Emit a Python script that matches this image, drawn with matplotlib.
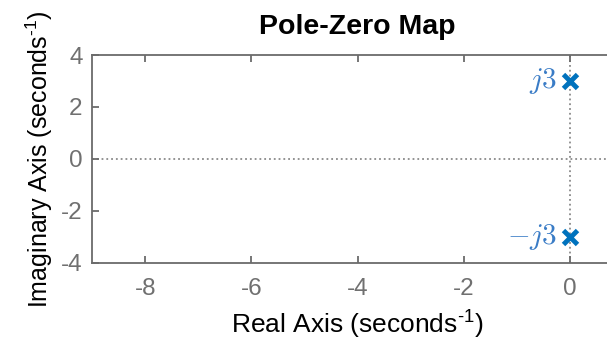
import numpy as np
import matplotlib
matplotlib.use('Agg')
import matplotlib.pyplot as plt

# datos del mapa de polos
pole_re = [0.0, 0.0]
pole_im = [3.0, -3.0]
pole_txt = ['$j3$', '$-j3$']
xticks = [-8, -6, -4, -2, 0]
yticks = [-4, -2, 0, 2, 4]

plt.rcParams['font.family'] = ['Liberation Sans', 'DejaVu Sans']
plt.rcParams['mathtext.fontset'] = 'custom'
plt.rcParams['mathtext.rm'] = 'Liberation Sans'
plt.rcParams['mathtext.sf'] = 'Liberation Sans'
plt.rcParams['axes.unicode_minus'] = False

fig = plt.figure(figsize=(6.07, 3.44), dpi=100)
ax = fig.add_axes([0.152, 0.2363, 0.874, 0.6038])

gris = '#6b6b6b'
azul = '#0072BD'

# lineas punteadas de los ejes
ax.axhline(0, color='#8a8a8a', ls=':', lw=1.3, zorder=1)
ax.axvline(0, color='#8a8a8a', ls=':', lw=1.3, zorder=1)

ax.plot(pole_re, pole_im, 'x', color=azul, ms=10.5, mew=3.5, zorder=3)
for xr, yi, t in zip(pole_re, pole_im, pole_txt):
    ax.annotate(t, (xr, yi), xytext=(-9, 0), textcoords='offset points',
                ha='right', va='center', color='#3a7cc6', fontsize=21,
                math_fontfamily='cm')

ax.set_xlim(-9, 1)
ax.set_ylim(-4, 4)
ax.set_xticks(xticks)
ax.set_yticks(yticks)

for s in ax.spines.values():
    s.set_color(gris)
    s.set_linewidth(1.3)
ax.tick_params(direction='in', length=5, width=1.3, color=gris,
               labelcolor='#707070', labelsize=17.5, top=True, right=True)
ax.tick_params(axis='x', pad=11)
ax.tick_params(axis='y', pad=7)

ax.set_title('Pole-Zero Map', fontsize=20.5, fontweight='bold', pad=15)
ax.set_xlabel('Real Axis (seconds$^{\\text{-1}}$)', fontsize=19, labelpad=5)
ax.set_ylabel('Imaginary Axis (seconds$^{\\text{-1}}$)', fontsize=18, labelpad=4)

fig.savefig('out.png', dpi=100)
